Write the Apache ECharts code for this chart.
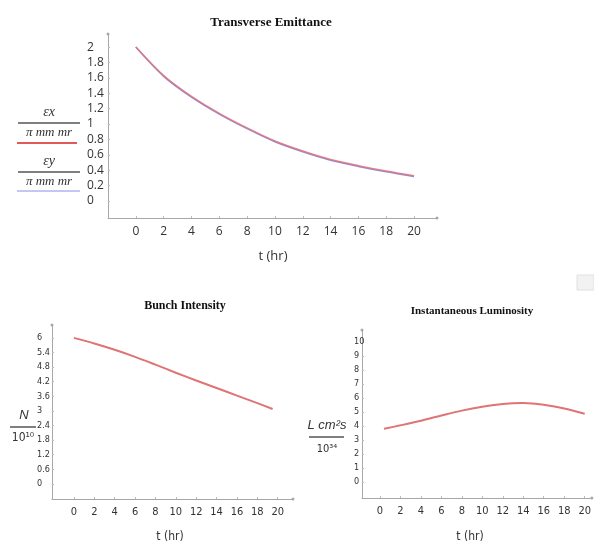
<!DOCTYPE html>
<html>
<head>
<meta charset="utf-8">
<title>emittance / intensity / luminosity</title>
<script src="https://cdn.jsdelivr.net/npm/echarts@6/dist/echarts.min.js"></script>
<style>
    html,body{margin:0;padding:0;background:#fff;}
    #echarts{width:594px;height:547px;}
</style>
</head>
<body>
<div id="echarts"></div>
<script>
/*-------------------------数据----------------------------*/
//横向发射度 (t, εx / π mm mr)
var tEmit = [0, 2, 4, 6, 8, 10, 12, 14, 16, 18, 20];
var emitX = [2.0, 1.63, 1.36, 1.14, 0.95, 0.78, 0.65, 0.54, 0.46, 0.39, 0.33];
var emitY = [2.0, 1.62, 1.35, 1.13, 0.94, 0.77, 0.64, 0.53, 0.45, 0.38, 0.32];
//束团强度 N / 10^10
var tBunch = [0, 2, 4, 6, 8, 10, 12, 14, 16, 18, 19.5];
var bunchN = [6.0, 5.77, 5.51, 5.22, 4.9, 4.57, 4.25, 3.94, 3.63, 3.32, 3.08];
//瞬时亮度 L cm^2 s / 10^34
var tLumi = [0.4, 2, 4, 6, 8, 10, 12, 14, 16, 18, 20];
var lumi = [3.8, 4.05, 4.38, 4.75, 5.1, 5.38, 5.58, 5.64, 5.52, 5.25, 4.88];
//刻度
var tTicks = [0, 2, 4, 6, 8, 10, 12, 14, 16, 18, 20];
var emitTicks = [0, 0.2, 0.4, 0.6, 0.8, 1, 1.2, 1.4, 1.6, 1.8, 2];
var bunchTicks = [0, 0.6, 1.2, 1.8, 2.4, 3, 3.6, 4.2, 4.8, 5.4, 6];
var lumiTicks = [0, 1, 2, 3, 4, 5, 6, 7, 8, 9, 10];

function pairs(xs, ys){
    var out = [];
    for(var i=0;i<xs.length;i++){
        out.push([xs[i], ys[i]]);
    }
    return out;
}

/*-------------------------坐标轴样式----------------------------*/
function xAx(idx, min, max, font, size, margin){
    return {
        type:'value', gridIndex:idx, min:min, max:max,
        splitLine:{show:false},
        axisLine:{onZero:false, lineStyle:{color:'#a8a8a8'}, symbol:['none','circle'], symbolSize:[3,3]},
        axisTick:{customValues:tTicks, length:2, inside:true, lineStyle:{color:'#bbb'}},
        axisLabel:{customValues:tTicks, color:'#333', fontFamily:font, fontSize:size, margin:margin}
    };
}
function yAx(idx, min, max, ticks, font, size, margin){
    return {
        type:'value', gridIndex:idx, min:min, max:max,
        splitLine:{show:false},
        axisLine:{show:true, onZero:false, lineStyle:{color:'#a8a8a8'}, symbol:['none','circle'], symbolSize:[3,3]},
        axisTick:{show:true, customValues:ticks, length:2, inside:true, lineStyle:{color:'#bbb'}},
        axisLabel:{customValues:ticks, color:'#333', fontFamily:font, fontSize:size, margin:margin, align:'left'}
    };
}

var red = '#e07373';
var blue = '#8c8ce6';
var narrow = '"Liberation Sans Narrow", "DejaVu Sans Condensed", sans-serif';

/*-------------------------echarts初始化----------------------------*/
var myChart = echarts.init(document.getElementById('echarts'));
var option = {
    animation:false,
    backgroundColor:'#fff',
    title:[
        {text:'Transverse Emittance', left:266, top:11, textAlign:'center',
         textStyle:{fontFamily:'"Liberation Serif", serif', fontWeight:'bold', fontSize:13, color:'#111'}},
        {text:'Bunch Intensity', left:180, top:295, textAlign:'center',
         textStyle:{fontFamily:'"Liberation Serif", serif', fontWeight:'bold', fontSize:12, color:'#111'}},
        {text:'Instantaneous Luminosity', left:467, top:301, textAlign:'center',
         textStyle:{fontFamily:'"Liberation Serif", serif', fontWeight:'bold', fontSize:11, color:'#111'}}
    ],
    grid:[
        {left:108, top:34, width:329, height:184},
        {left:52, top:325, width:241, height:174},
        {left:362, top:330, width:230, height:168}
    ],
    xAxis:[
        xAx(0, -2, 21.65, '"Open Sans", sans-serif', 12, 8),
        xAx(1, -2.15, 21.5, narrow, 11, 8),
        xAx(2, -1.75, 20.7, narrow, 11, 8)
    ],
    yAxis:[
        yAx(0, -0.22, 2.17, emitTicks, '"Open Sans", sans-serif', 12, 21),
        yAx(1, -0.62, 6.53, bunchTicks, narrow, 9, 15),
        yAx(2, -1.14, 10.86, lumiTicks, narrow, 9, 8)
    ],
    series:[
        {name:'εx', type:'line', xAxisIndex:0, yAxisIndex:0, smooth:0.3, showSymbol:false,
         lineStyle:{color:blue, width:1.5}, data:pairs(tEmit, emitY)},
        {name:'εy', type:'line', xAxisIndex:0, yAxisIndex:0, smooth:0.3, showSymbol:false,
         lineStyle:{color:red, width:1.5, opacity:0.85}, data:pairs(tEmit, emitX)},
        {name:'N', type:'line', xAxisIndex:1, yAxisIndex:1, smooth:0.3, showSymbol:false,
         lineStyle:{color:red, width:2}, data:pairs(tBunch, bunchN)},
        {name:'L', type:'line', xAxisIndex:2, yAxisIndex:2, smooth:0.3, showSymbol:false,
         lineStyle:{color:red, width:2}, data:pairs(tLumi, lumi)}
    ],
    graphic:[
        //x轴名称
        {type:'text', x:273, y:256, style:{text:'t (hr)', fill:'#333', font:'13px "Open Sans", sans-serif', align:'center', verticalAlign:'middle'}},
        {type:'text', x:170, y:537, style:{text:'t (hr)', fill:'#333', font:'12px ' + narrow, align:'center', verticalAlign:'middle'}},
        {type:'text', x:470, y:537, style:{text:'t (hr)', fill:'#333', font:'12px ' + narrow, align:'center', verticalAlign:'middle'}},
        //εx / π mm mr
        {type:'text', x:49, y:112, style:{text:'εx', fill:'#333', font:'italic 14px "Liberation Serif", serif', align:'center', verticalAlign:'middle'}},
        {type:'line', shape:{x1:18, y1:123, x2:80, y2:123}, style:{stroke:'#555', lineWidth:1.5}},
        {type:'text', x:49, y:133, style:{text:'π mm mr', fill:'#333', font:'italic 13px "Liberation Serif", serif', align:'center', verticalAlign:'middle'}},
        {type:'line', shape:{x1:17, y1:143, x2:77, y2:143}, style:{stroke:'#e05a5a', lineWidth:2}},
        //εy / π mm mr
        {type:'text', x:49, y:161, style:{text:'εy', fill:'#333', font:'italic 14px "Liberation Serif", serif', align:'center', verticalAlign:'middle'}},
        {type:'line', shape:{x1:18, y1:172, x2:80, y2:172}, style:{stroke:'#555', lineWidth:1.5}},
        {type:'text', x:49, y:182, style:{text:'π mm mr', fill:'#333', font:'italic 13px "Liberation Serif", serif', align:'center', verticalAlign:'middle'}},
        {type:'line', shape:{x1:17, y1:191, x2:80, y2:191}, style:{stroke:'#8c8ce6', lineWidth:1}},
        //N / 10^10
        {type:'text', x:24, y:415, style:{text:'N', fill:'#333', font:'italic 13px "Liberation Sans Narrow", sans-serif', align:'center', verticalAlign:'middle'}},
        {type:'line', shape:{x1:10, y1:427, x2:36, y2:427}, style:{stroke:'#555', lineWidth:1.5}},
        {type:'text', x:23, y:438, style:{text:'10¹⁰', fill:'#333', font:'12px ' + narrow, align:'center', verticalAlign:'middle'}},
        //L cm^2 s / 10^34
        {type:'text', x:327, y:425, style:{text:'L cm²s', fill:'#333', font:'italic 13px "Liberation Sans Narrow", sans-serif', align:'center', verticalAlign:'middle'}},
        {type:'line', shape:{x1:309, y1:437, x2:344, y2:437}, style:{stroke:'#555', lineWidth:1.5}},
        {type:'text', x:327, y:449, style:{text:'10³⁴', fill:'#333', font:'11px ' + narrow, align:'center', verticalAlign:'middle'}},
        //右上角的灰色小块
        {type:'rect', shape:{x:577, y:275, width:17, height:15}, style:{fill:'#f2f2f2', stroke:'#e0e0e0', lineWidth:1}}
    ]
};
myChart.setOption(option);
</script>
</body>
</html>
